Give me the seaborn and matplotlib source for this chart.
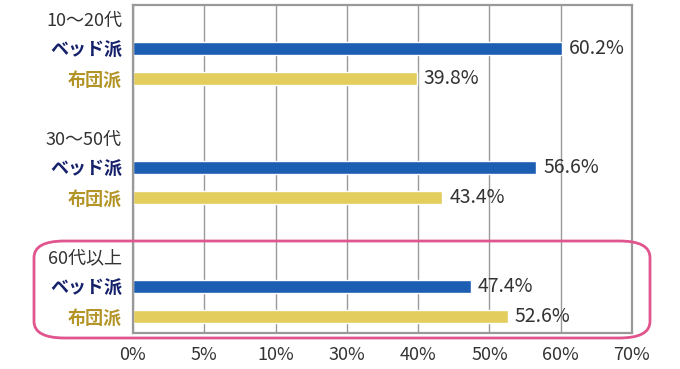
import matplotlib
matplotlib.use("Agg")
import matplotlib.pyplot as plt
import pandas as pd
import seaborn as sns
from matplotlib.patches import FancyBboxPatch

# data
groups = ['10～20代', '30～50代', '60代以上']
kinds = ['ベッド派', '布団派']
bed = [60.2, 56.6, 47.4]
futon = [39.8, 43.4, 52.6]
xtick_labels = ['0%', '5%', '10%', '30%', '40%', '50%', '60%', '70%']

sns.set_style('white')
plt.rcParams['font.family'] = ['Noto Sans CJK JP', 'DejaVu Sans']

# one row per label: group title, then the two bars
rows = []
for i, g in enumerate(groups):
    rows.append({'pos': 4 * i + 1, 'kind': kinds[0], 'value': bed[i]})
    rows.append({'pos': 4 * i + 2, 'kind': kinds[1], 'value': futon[i]})
df = pd.DataFrame(rows)

fig = plt.figure(figsize=(6.8, 3.69), dpi=100)
ax = fig.add_axes([133 / 680, 1 - 333 / 369, (632 - 133) / 680, (333 - 5) / 369])

sns.barplot(data=df, x='value', y='pos', hue='kind', orient='h', native_scale=True,
            dodge=False, width=0.44, palette=['#1c5fb2', '#e3cd5c'], legend=False,
            saturation=1, ax=ax)

for _, r in df.iterrows():
    ax.annotate('{:.1f}%'.format(r['value']), (r['value'], r['pos']),
                xytext=(5, 0), textcoords='offset points', va='center', ha='left',
                fontsize=14, color='#333333')

ax.set_xlim(0, 70)
ax.set_ylim(10.57, -0.47)
ax.set_xticks(range(0, 71, 10))
ax.set_xticklabels(xtick_labels, fontsize=13, color='#333333')
ax.grid(axis='x', color='#999999', linewidth=1)
ax.set_axisbelow(True)

ypos, ylab, ycol, ywt = [], [], [], []
for i, g in enumerate(groups):
    ypos += [4 * i, 4 * i + 1, 4 * i + 2]
    ylab += [g, kinds[0], kinds[1]]
    ycol += ['#333333', '#15216a', '#b39427']
    ywt += ['normal', 'bold', 'bold']
ax.set_yticks(ypos)
ax.set_yticklabels(ylab, fontsize=13)
for t, c, w in zip(ax.get_yticklabels(), ycol, ywt):
    t.set_color(c)
    t.set_fontweight(w)
ax.tick_params(axis='y', length=0, pad=8)
ax.tick_params(axis='x', length=0, pad=9)
ax.set_xlabel('')
ax.set_ylabel('')

for s in ax.spines.values():
    s.set_color('#999999')
    s.set_linewidth(1.6)

# pink rounded frame around the last group
box = FancyBboxPatch((34 / 680, 1 - 338 / 369), (650 - 34) / 680, (338 - 241) / 369,
                     boxstyle='round,pad=0,rounding_size=0.045', transform=fig.transFigure,
                     fill=False, edgecolor='#e0558e', linewidth=2, clip_on=False)
fig.patches.append(box)

fig.savefig('out.png', dpi=100)
